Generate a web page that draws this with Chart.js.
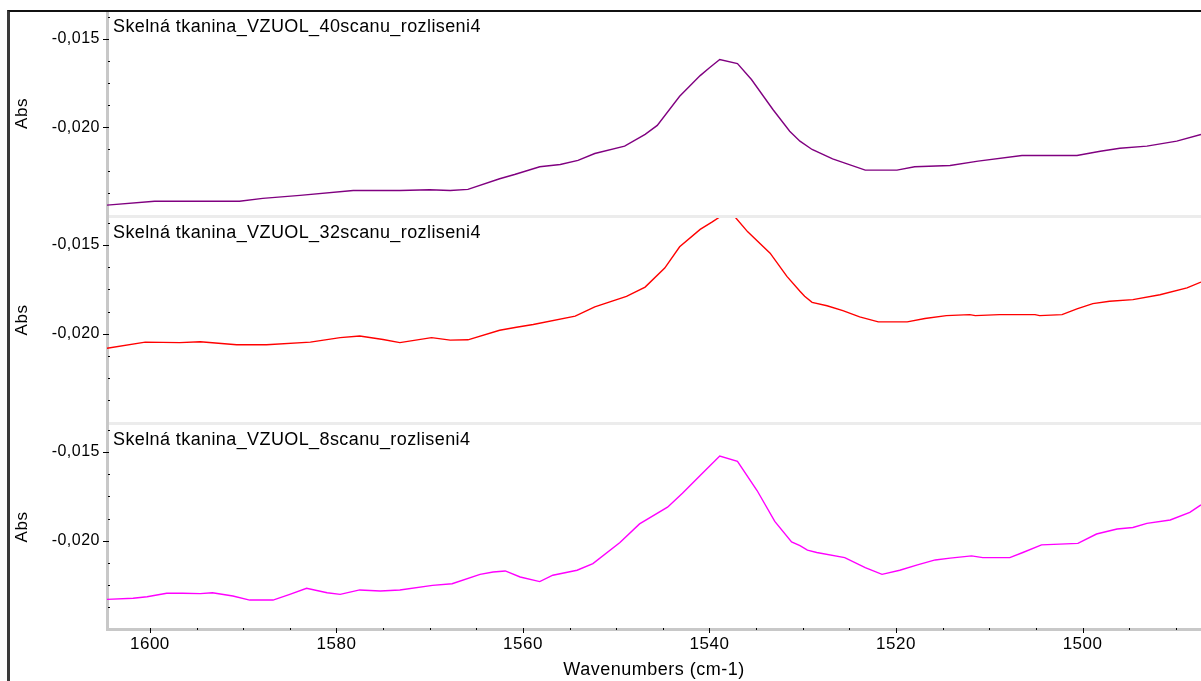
<!DOCTYPE html>
<html>
<head>
<meta charset="utf-8">
<script src="https://cdn.jsdelivr.net/npm/chart.js@4.4.1/dist/chart.umd.min.js"></script>
<style>
  html, body { margin: 0; padding: 0; background: #fff; overflow: hidden; }
  #frame { position: absolute; left: 7px; top: 10px; width: 1300px; height: 800px;
           border-left: 3px solid #3a3a3a; border-top: 2px solid #111; }
  canvas.panel { position: absolute; left: 10px; }
</style>
</head>
<body>
<div id="frame"></div>
<canvas id="p1" class="panel" width="1191" height="206" style="top:12px"></canvas>
<canvas id="p2" class="panel" width="1191" height="207" style="top:218px"></canvas>
<canvas id="p3" class="panel" width="1191" height="256" style="top:425px"></canvas>
<script>
// spectra, wavenumber (cm-1) / absorbance
const wn40 = [1604.6, 1599.5, 1590.4, 1587.9, 1583.9, 1578.2, 1573.2, 1570.0, 1567.8, 1565.9, 1562.5, 1560.9, 1558.2, 1556.0, 1554.1, 1552.3, 1549.1, 1546.9, 1545.6, 1543.2, 1541.0, 1540.0, 1538.9, 1537.0, 1535.5, 1533.2, 1531.4, 1530.3, 1529.0, 1526.8, 1523.3, 1519.9, 1518.0, 1514.2, 1511.2, 1506.5, 1500.6, 1498.1, 1496.0, 1493.1, 1489.9, 1487.3];
const abs40 = [-0.02441, -0.02419, -0.02419, -0.02403, -0.02386, -0.02358, -0.02358, -0.02354, -0.02358, -0.02352, -0.02292, -0.02268, -0.02224, -0.02211, -0.02188, -0.02149, -0.02107, -0.02041, -0.01990, -0.01825, -0.01708, -0.01664, -0.01617, -0.01640, -0.01730, -0.01900, -0.02023, -0.02079, -0.02126, -0.02179, -0.02243, -0.02243, -0.02224, -0.02217, -0.02192, -0.02160, -0.02160, -0.02136, -0.02119, -0.02107, -0.02079, -0.02041];

const wn32 = [1604.6, 1600.5, 1596.8, 1594.6, 1590.7, 1587.5, 1582.8, 1579.6, 1577.5, 1575.0, 1573.2, 1569.8, 1567.8, 1565.9, 1562.5, 1560.7, 1558.9, 1554.4, 1552.3, 1548.9, 1546.9, 1544.8, 1543.2, 1541.0, 1539.7, 1538.7, 1537.3, 1535.9, 1533.5, 1531.7, 1530.3, 1529.8, 1529.0, 1527.4, 1525.7, 1523.9, 1521.9, 1518.8, 1516.9, 1514.6, 1512.1, 1511.5, 1508.9, 1505.1, 1504.6, 1502.2, 1500.6, 1498.9, 1497.1, 1494.6, 1491.7, 1488.8, 1487.3];
const abs32 = [-0.02082, -0.02047, -0.02050, -0.02045, -0.02062, -0.02062, -0.02047, -0.02022, -0.02013, -0.02032, -0.02050, -0.02022, -0.02036, -0.02034, -0.01980, -0.01963, -0.01948, -0.01901, -0.01849, -0.01789, -0.01737, -0.01630, -0.01510, -0.01412, -0.01370, -0.01335, -0.01340, -0.01426, -0.01546, -0.01677, -0.01761, -0.01789, -0.01823, -0.01842, -0.01870, -0.01905, -0.01933, -0.01933, -0.01914, -0.01898, -0.01892, -0.01898, -0.01892, -0.01892, -0.01898, -0.01892, -0.01860, -0.01830, -0.01817, -0.01808, -0.01780, -0.01742, -0.01709];

const wn8 = [1604.6, 1601.8, 1600.3, 1598.2, 1596.5, 1594.6, 1593.3, 1591.1, 1589.3, 1586.8, 1585.0, 1583.2, 1581.0, 1579.6, 1577.5, 1575.3, 1573.2, 1569.7, 1567.6, 1564.6, 1563.2, 1561.9, 1560.3, 1558.2, 1556.8, 1554.2, 1552.5, 1549.6, 1547.5, 1544.5, 1542.9, 1541.0, 1538.9, 1537.0, 1534.9, 1533.0, 1531.2, 1530.3, 1529.5, 1528.5, 1525.5, 1523.3, 1521.5, 1519.6, 1517.7, 1515.8, 1514.2, 1511.9, 1510.7, 1507.8, 1506.4, 1504.4, 1500.5, 1498.5, 1496.3, 1494.6, 1493.1, 1490.6, 1488.5, 1487.3];
const abs8 = [-0.02330, -0.02324, -0.02315, -0.02296, -0.02296, -0.02298, -0.02293, -0.02311, -0.02334, -0.02334, -0.02302, -0.02268, -0.02293, -0.02302, -0.02277, -0.02283, -0.02277, -0.02251, -0.02242, -0.02189, -0.02176, -0.02170, -0.02204, -0.02230, -0.02194, -0.02166, -0.02129, -0.02010, -0.01905, -0.01811, -0.01732, -0.01632, -0.01523, -0.01553, -0.01717, -0.01891, -0.02006, -0.02028, -0.02053, -0.02066, -0.02095, -0.02151, -0.02189, -0.02166, -0.02136, -0.02108, -0.02098, -0.02085, -0.02095, -0.02095, -0.02066, -0.02023, -0.02015, -0.01962, -0.01934, -0.01925, -0.01902, -0.01883, -0.01840, -0.01798];

const titles = [
  'Skelná tkanina_VZUOL_40scanu_rozliseni4',
  'Skelná tkanina_VZUOL_32scanu_rozliseni4',
  'Skelná tkanina_VZUOL_8scanu_rozliseni4'
];
const colors = ['#800080', '#ff0000', '#ff00ff'];

const xMin = 1487.3, xMax = 1604.6, xStep = 5, xLabelEvery = 20;
const yMin = -0.02497, yMax = -0.01348, yStep = 0.00125;

Chart.defaults.font.family = '"Liberation Sans", Arial, sans-serif';
Chart.defaults.color = '#000';

// tick marks, panel separator and the panel caption
const panelDecor = {
  id: 'panelDecor',
  beforeDraw(chart) { chart.ctx.letterSpacing = '0.5px'; },
  afterDraw(chart, args, opts) {
    const { ctx, chartArea: a, scales } = chart;
    ctx.save();
    if (opts.separator) {
      ctx.fillStyle = '#ececec';
      ctx.fillRect(a.left, a.bottom, a.right - a.left, 3);
      ctx.fillStyle = '#c8c8c8';
      ctx.fillRect(a.left - 1, a.bottom, 3, 3);
    }
    ctx.fillStyle = '#000';
    scales.y.ticks.forEach(t => {
      const py = Math.round(scales.y.getPixelForValue(t.value));
      if (t.label) ctx.fillRect(a.left - 4, py, 6, 1);
      else ctx.fillRect(a.left + 1, py, 2, 1);
    });
    if (opts.xTicks) {
      scales.x.ticks.forEach(t => {
        const px = Math.round(scales.x.getPixelForValue(t.value));
        if (t.label) ctx.fillRect(px, a.bottom - 1, 1, 5);
        else ctx.fillRect(px, a.bottom - 1, 1, 2);
      });
    }
    ctx.letterSpacing = '0.4px';
    ctx.font = '18px "Liberation Sans", Arial, sans-serif';
    ctx.textAlign = 'left';
    ctx.textBaseline = 'alphabetic';
    ctx.fillText(opts.title, a.left + 6, a.top + 20);
    ctx.restore();
  }
};

function makePanel(id, xs, ys, idx, bottom) {
  new Chart(document.getElementById(id), {
    type: 'line',
    data: {
      datasets: [{
        data: xs.map((x, i) => ({ x: x, y: ys[i] })),
        borderColor: colors[idx],
        borderWidth: 1.4,
        pointRadius: 0,
        tension: 0,
        fill: false
      }]
    },
    options: {
      responsive: false,
      animation: false,
      events: [],
      layout: { padding: { left: 0, right: 0, top: 0, bottom: bottom ? 0 : 3 } },
      plugins: {
        legend: { display: false },
        tooltip: { enabled: false },
        panelDecor: { title: titles[idx], separator: !bottom, xTicks: bottom }
      },
      scales: {
        x: {
          type: 'linear',
          reverse: true,
          min: xMin,
          max: xMax,
          display: bottom,
          border: { display: true, color: '#c8c8c8', width: 3 },
          grid: { display: false, drawTicks: false },
          ticks: {
            stepSize: xStep, maxTicksLimit: 30, includeBounds: false,
            autoSkip: false, maxRotation: 0, padding: 5,
            font: { size: 17 },
            callback: v => (v % xLabelEvery === 0 ? String(v) : '')
          },
          title: { display: true, text: 'Wavenumbers (cm-1)', font: { size: 18 }, padding: { top: 0, bottom: 0 } },
          afterFit(s) {
            if (!s.options.display) return;
            s.height = 52; s.paddingLeft = 0; s.paddingRight = 0;
          }
        },
        y: {
          min: yMin,
          max: yMax,
          border: { display: true, color: '#c8c8c8', width: 3 },
          grid: { display: false, drawTicks: false },
          ticks: {
            stepSize: yStep, maxTicksLimit: 11, includeBounds: false, padding: 7,
            font: { size: 16 },
            callback: v => (Math.round(v / yStep) % 4 === 0 ? v.toFixed(3).replace('.', ',') : '')
          },
          title: { display: true, text: 'Abs', font: { size: 17 }, padding: { top: 2, bottom: 0 } },
          afterFit(s) { s.width = 97; s.paddingTop = 0; s.paddingBottom = 0; }
        }
      }
    },
    plugins: [panelDecor]
  });
}

makePanel('p1', wn40, abs40, 0, false);
makePanel('p2', wn32, abs32, 1, false);
makePanel('p3', wn8, abs8, 2, true);
</script>
</body>
</html>
